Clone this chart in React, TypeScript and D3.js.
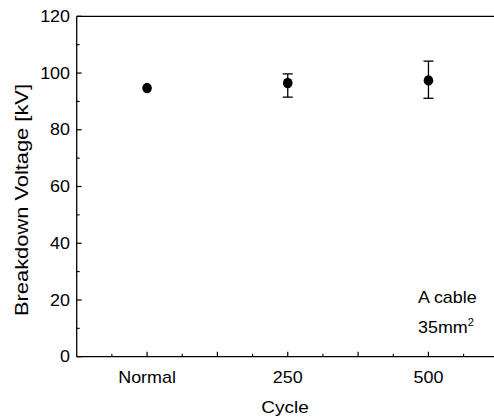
import React from "react";
import * as d3 from "d3";

const categories = ["Normal", "250", "500"];
const catPositions = [1, 3, 5];
const means = [94.7, 96.5, 97.4];
const errLow = [94.7, 91.5, 91.1];
const errHigh = [94.7, 99.7, 104.2];
const yTicks = [0, 20, 40, 60, 80, 100, 120];
const yMinor = [10, 30, 50, 70, 90, 110];
const xMajor = [1, 2, 3, 4, 5];
const xMinor = [0.5, 1.5, 2.5, 3.5, 4.5, 5.5];

const W = 494;
const H = 419;
const left = 76.7;
const top = 16.3;
const bottom = 356.7;
const unit = 70.35;
const SX = 1.12;

export default function App() {
  const x = d3.scaleLinear().domain([0, 6]).range([left, left + 6 * unit]);
  const y = d3.scaleLinear().domain([0, 120]).range([bottom, top]);
  const font = "'Liberation Sans', Arial, sans-serif";
  return (
    <svg
      width={W}
      height={H}
      style={{ position: "absolute", left: 0, top: 0, background: "#fff" }}
      fontFamily={font}
    >
      <rect x={0} y={0} width={W} height={H} fill="#fff" />
      <line x1={left} y1={top} x2={left} y2={bottom} stroke="#000" strokeWidth={1.3} />
      <line x1={left} y1={bottom} x2={W} y2={bottom} stroke="#000" strokeWidth={1.3} />
      <line x1={left} y1={top} x2={W} y2={top} stroke="#000" strokeWidth={1.3} />
      {yTicks.map((t) => (
        <g key={"yt" + t}>
          <line x1={left} x2={left + 5} y1={y(t)} y2={y(t)} stroke="#000" strokeWidth={1.2} />
          <text
            transform={`translate(70, ${y(t) + 5.7}) scale(${SX},1)`}
            textAnchor="end"
            fontSize={16}
            fill="#000"
          >
            {t}
          </text>
        </g>
      ))}
      {yMinor.map((t) => (
        <line key={"ym" + t} x1={left} x2={left + 3} y1={y(t)} y2={y(t)} stroke="#000" strokeWidth={1.1} />
      ))}
      {xMajor.map((t) => (
        <line key={"xt" + t} x1={x(t)} x2={x(t)} y1={bottom} y2={bottom - 5} stroke="#000" strokeWidth={1.2} />
      ))}
      {xMinor.map((t) => (
        <line key={"xm" + t} x1={x(t)} x2={x(t)} y1={bottom} y2={bottom - 3} stroke="#000" strokeWidth={1.1} />
      ))}
      {categories.map((c, i) => (
        <text
          key={"xl" + c}
          transform={`translate(${x(catPositions[i])}, 383) scale(${SX},1)`}
          textAnchor="middle"
          fontSize={16}
          fill="#000"
        >
          {c}
        </text>
      ))}
      <text transform={`translate(285, 413) scale(${SX},1)`} textAnchor="middle" fontSize={17} fill="#000">
        Cycle
      </text>
      <text
        transform={`translate(28, 200) rotate(-90) scale(1.15,1)`}
        textAnchor="middle"
        fontSize={19}
        fill="#000"
      >
        Breakdown Voltage [kV]
      </text>
      {categories.map((c, i) =>
        errHigh[i] - errLow[i] > 0.5 ? (
          <g key={"eb" + c} stroke="#000" strokeWidth={1.3}>
            <line x1={x(catPositions[i])} x2={x(catPositions[i])} y1={y(errLow[i])} y2={y(errHigh[i])} />
            <line x1={x(catPositions[i]) - 5} x2={x(catPositions[i]) + 5} y1={y(errLow[i])} y2={y(errLow[i])} />
            <line x1={x(catPositions[i]) - 5} x2={x(catPositions[i]) + 5} y1={y(errHigh[i])} y2={y(errHigh[i])} />
          </g>
        ) : null
      )}
      {categories.map((c, i) => (
        <ellipse key={"pt" + c} cx={x(catPositions[i])} cy={y(means[i])} rx={4.8} ry={5.2} fill="#000" />
      ))}
      <text transform={`translate(418, 303) scale(${SX},1)`} fontSize={16} fill="#000">
        A cable
      </text>
      <text transform={`translate(418, 333) scale(${SX},1)`} fontSize={16} fill="#000">
        35mm
        <tspan dy={-7} fontSize={10}>
          2
        </tspan>
      </text>
    </svg>
  );
}
